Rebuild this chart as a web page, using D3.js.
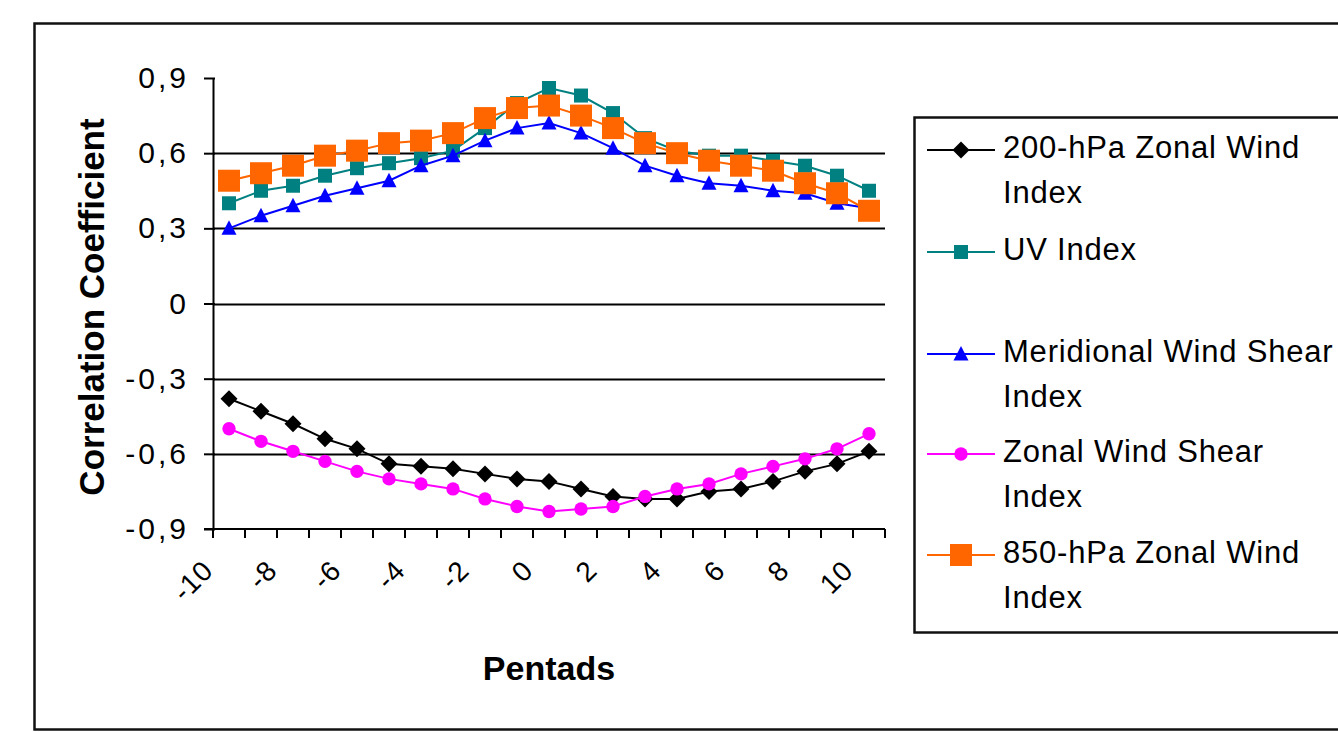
<!DOCTYPE html>
<html>
<head>
<meta charset="utf-8">
<script src="https://cdn.jsdelivr.net/npm/d3@7"></script>
<style>
  html, body { margin: 0; padding: 0; background: #fff; overflow: hidden; }
  svg { display: block; }
  text { font-family: "Liberation Sans", Arial, sans-serif; fill: #000; }
</style>
</head>
<body>
<svg id="chart" width="1338" height="732"></svg>
<script>
// ---- data ----
const pentads = [-10,-9,-8,-7,-6,-5,-4,-3,-2,-1,0,1,2,3,4,5,6,7,8,9,10];
const xTickLabels = [-10,-8,-6,-4,-2,0,2,4,6,8,10];
const yTicks = [-0.9,-0.6,-0.3,0,0.3,0.6,0.9];
const gridValues = [-0.6,-0.3,0,0.3,0.6];

const zonal200 = [-0.38,-0.43,-0.48,-0.54,-0.58,-0.64,-0.65,-0.66,-0.68,-0.70,-0.71,-0.74,-0.77,-0.78,-0.78,-0.75,-0.74,-0.71,-0.67,-0.64,-0.59];
const uvIndex = [0.40,0.45,0.47,0.51,0.54,0.56,0.58,0.61,0.70,0.80,0.86,0.83,0.76,0.66,0.61,0.59,0.59,0.57,0.55,0.51,0.45];
const meridShear = [0.30,0.35,0.39,0.43,0.46,0.49,0.55,0.59,0.65,0.70,0.72,0.68,0.62,0.55,0.51,0.48,0.47,0.45,0.44,0.40,0.38];
const zonalShear = [-0.50,-0.55,-0.59,-0.63,-0.67,-0.70,-0.72,-0.74,-0.78,-0.81,-0.83,-0.82,-0.81,-0.77,-0.74,-0.72,-0.68,-0.65,-0.62,-0.58,-0.52];
const zonal850 = [0.49,0.52,0.55,0.59,0.61,0.64,0.65,0.68,0.74,0.78,0.79,0.75,0.70,0.64,0.60,0.57,0.55,0.53,0.48,0.44,0.37];

const seriesNames = [
  ["200-hPa Zonal Wind", "Index"],
  ["UV Index"],
  ["Meridional Wind Shear", "Index"],
  ["Zonal Wind Shear", "Index"],
  ["850-hPa Zonal Wind", "Index"]
];
const seriesValues = [zonal200, uvIndex, meridShear, zonalShear, zonal850];
const seriesColors = ["#000000", "#008080", "#0000ff", "#ff00ff", "#ff6600"];
const seriesMarkers = ["diamond", "square", "triangle", "circle", "bigsquare"];

// ---- setup ----
const svg = d3.select("#chart");
const FONT = '"Liberation Sans", Arial, sans-serif';

// outer frame
svg.append("rect")
  .attr("x", 34.5).attr("y", 23.5).attr("width", 1400).attr("height", 706)
  .attr("fill", "none").attr("stroke", "#111").attr("stroke-width", 2.5);

const x = d3.scaleBand().domain(pentads).range([213, 885]).padding(0);
const y = d3.scaleLinear().domain([-0.9, 0.9]).range([529, 78]);

const locale = d3.formatLocale({decimal: ",", thousands: ".", grouping: [3], currency: ["", ""], minus: "-"});
const fmt = locale.format(".1~f");

// gridlines
svg.append("g").selectAll("line").data(gridValues).join("line")
  .attr("x1", x.range()[0]).attr("x2", x.range()[1])
  .attr("y1", d => Math.round(y(d)) + 0.5).attr("y2", d => Math.round(y(d)) + 0.5)
  .attr("stroke", "#000").attr("stroke-width", 2);

// y axis
const yAxis = d3.axisLeft(y).tickValues(yTicks).tickFormat(fmt).tickSize(9).tickSizeOuter(0).tickPadding(18);
const gy = svg.append("g").attr("transform", `translate(${x.range()[0]},0)`).call(yAxis);
gy.select(".domain").attr("stroke", "#000").attr("stroke-width", 2);
gy.selectAll(".tick line").attr("stroke", "#000").attr("stroke-width", 2).attr("x2", -9).attr("x1", 2);
gy.selectAll(".tick text").attr("font-family", FONT).attr("font-size", 30)
  .attr("letter-spacing", 3).attr("dx", 3).attr("fill", "#000");

// x axis (category axis at the bottom, ticks at boundaries)
const gx = svg.append("g");
gx.append("line")
  .attr("x1", x.range()[0] - 9).attr("x2", x.range()[1])
  .attr("y1", y(-0.9)).attr("y2", y(-0.9))
  .attr("stroke", "#000").attr("stroke-width", 2);
const boundaries = pentads.map(p => x(p)).concat([x(pentads[pentads.length - 1]) + x.bandwidth()]);
gx.selectAll("line.tk").data(boundaries).join("line").attr("class", "tk")
  .attr("x1", d => d).attr("x2", d => d)
  .attr("y1", y(-0.9)).attr("y2", y(-0.9) + 9)
  .attr("stroke", "#000").attr("stroke-width", 2);
gx.selectAll("text").data(xTickLabels).join("text")
  .attr("transform", d => `translate(${x(d) + x.bandwidth() / 2 - 14},572) rotate(-45)`)
  .attr("text-anchor", "end")
  .attr("font-size", 28)
  .attr("letter-spacing", 1)
  .text(d => d);

// axis titles
svg.append("text")
  .attr("transform", `translate(104,307) rotate(-90)`)
  .attr("text-anchor", "middle").attr("font-weight", "bold").attr("font-size", 35)
  .text("Correlation Coefficient");
svg.append("text")
  .attr("x", (x.range()[0] + x.range()[1]) / 2).attr("y", 680)
  .attr("text-anchor", "middle").attr("font-weight", "bold").attr("font-size", 34)
  .text("Pentads");

// markers
function markerPath(kind) {
  switch (kind) {
    case "diamond": return "M0,-8.5L8.5,0L0,8.5L-8.5,0Z";
    case "square": return "M-7,-7H7V7H-7Z";
    case "triangle": return "M0,-8L7.5,6.5H-7.5Z";
    case "circle": return d3.symbol(d3.symbolCircle, 140)();
    case "bigsquare": return "M-11,-11H11V11H-11Z";
  }
}

const cx = d => x(d) + x.bandwidth() / 2;
const line = d3.line().x(d => cx(d[0])).y(d => y(d[1]));

seriesValues.forEach((vals, si) => {
  const pts = pentads.map((p, i) => [p, vals[i]]);
  const g = svg.append("g");
  g.append("path").datum(pts).attr("d", line)
    .attr("fill", "none").attr("stroke", seriesColors[si]).attr("stroke-width", 2);
  g.selectAll("path.m").data(pts).join("path").attr("class", "m")
    .attr("d", markerPath(seriesMarkers[si]))
    .attr("transform", d => `translate(${cx(d[0])},${y(d[1])})`)
    .attr("fill", seriesColors[si]);
});

// legend
const legend = svg.append("g");
legend.append("rect")
  .attr("x", 914.5).attr("y", 117.5).attr("width", 500).attr("height", 515)
  .attr("fill", "#fff").attr("stroke", "#111").attr("stroke-width", 2.5);
const baselines = [158, 260, 362, 462, 563];
seriesNames.forEach((lines, si) => {
  const ly = baselines[si] - 8;
  const g = legend.append("g");
  g.append("line").attr("x1", 927).attr("x2", 995).attr("y1", ly).attr("y2", ly)
    .attr("stroke", seriesColors[si]).attr("stroke-width", 2);
  g.append("path").attr("d", markerPath(seriesMarkers[si]))
    .attr("transform", `translate(961,${ly})`).attr("fill", seriesColors[si]);
  lines.forEach((t, li) => {
    g.append("text").attr("x", 1003).attr("y", baselines[si] + li * 45)
      .attr("font-size", 31).attr("letter-spacing", 0.8).text(t);
  });
});
</script>
</body>
</html>
